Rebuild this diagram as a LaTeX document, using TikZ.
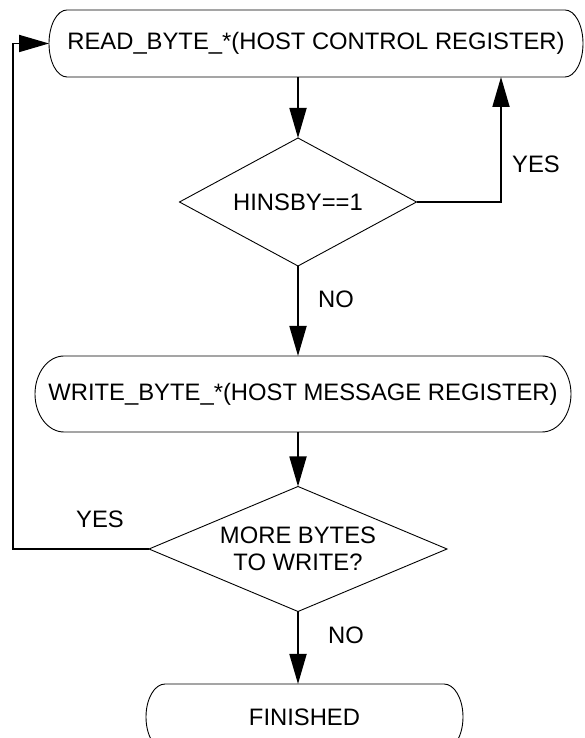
\documentclass[tikz,border=0pt]{standalone}
\usepackage{fontspec}
\setmainfont{Liberation Sans}
\usetikzlibrary{shapes.geometric,arrows.meta,positioning}

\tikzset{
	box/.style={minimum height=#1, inner sep=0pt, outer sep=0pt},
	decision/.style={diamond, draw, line width=0.9pt, inner sep=0pt, outer sep=0pt, align=center},
	flow/.style={line width=1.8pt, -{Triangle[length=30pt, width=17pt]}},
	lbl/.style={inner sep=0pt},
}

\begin{document}
\begin{tikzpicture}[x=1pt, y=1pt, font=\fontsize{23.8}{27.5}\selectfont]

	\useasboundingbox (0, 0) rectangle (584, 738);

	% Boites arrondies
	\node[box=67pt, minimum width=534pt] (read) at (316, 694.5) {READ\_BYTE\_*(HOST CONTROL REGISTER)};
	\node[box=76pt, minimum width=536pt] (write) at (303, 344) {WRITE\_BYTE\_*(HOST MESSAGE REGISTER)};
	\node[box=66pt, minimum width=317pt] (done) at (304.5, 21) {FINISHED};

	\foreach \n/\rx/\ry in {read/18/33.5, write/29/38, done/19/33} {
		\draw[line width=0.9pt] ([xshift=\rx pt]\n.north west) -- ([xshift=-\rx pt]\n.north east)
			arc[start angle=90, end angle=-90, x radius=\rx pt, y radius=\ry pt]
			-- ([xshift=\rx pt]\n.south west)
			arc[start angle=270, end angle=90, x radius=\rx pt, y radius=\ry pt] -- cycle;
	}

	% Losanges
	\node[decision, aspect=1.85, minimum width=237pt, minimum height=128pt] (hinsby) at (298, 536) {HINSBY==1};
	\node[decision, aspect=2.38, minimum width=298pt, minimum height=125pt] (more) at (298, 189) {MORE BYTES\\TO WRITE?};

	% Boucles
	\coordinate (rloop) at (501, 0);
	\coordinate (lloop) at (13, 0);

	\draw[flow] (read.south -| hinsby.north) -- (hinsby.north);
	\draw[flow] (hinsby.east) -| (read.south -| rloop);
	\draw[flow] (hinsby.south) -- (write.north -| hinsby.south);
	\draw[flow] (write.south -| more.north) -- (more.north);
	\draw[flow] (more.west) -- (more.west -| lloop) |- (read.west);
	\draw[flow] (more.south) -- (done.north -| more.south);

	% Etiquettes
	\node[lbl] (yesa) at (536, 573.5) {YES};
	\node[lbl] (noa) at (336, 438.5) {NO};
	\node[lbl] (yesb) at (100, 219) {YES};
	\node[lbl] (nob) at (346, 102.5) {NO};

\end{tikzpicture}
\end{document}
